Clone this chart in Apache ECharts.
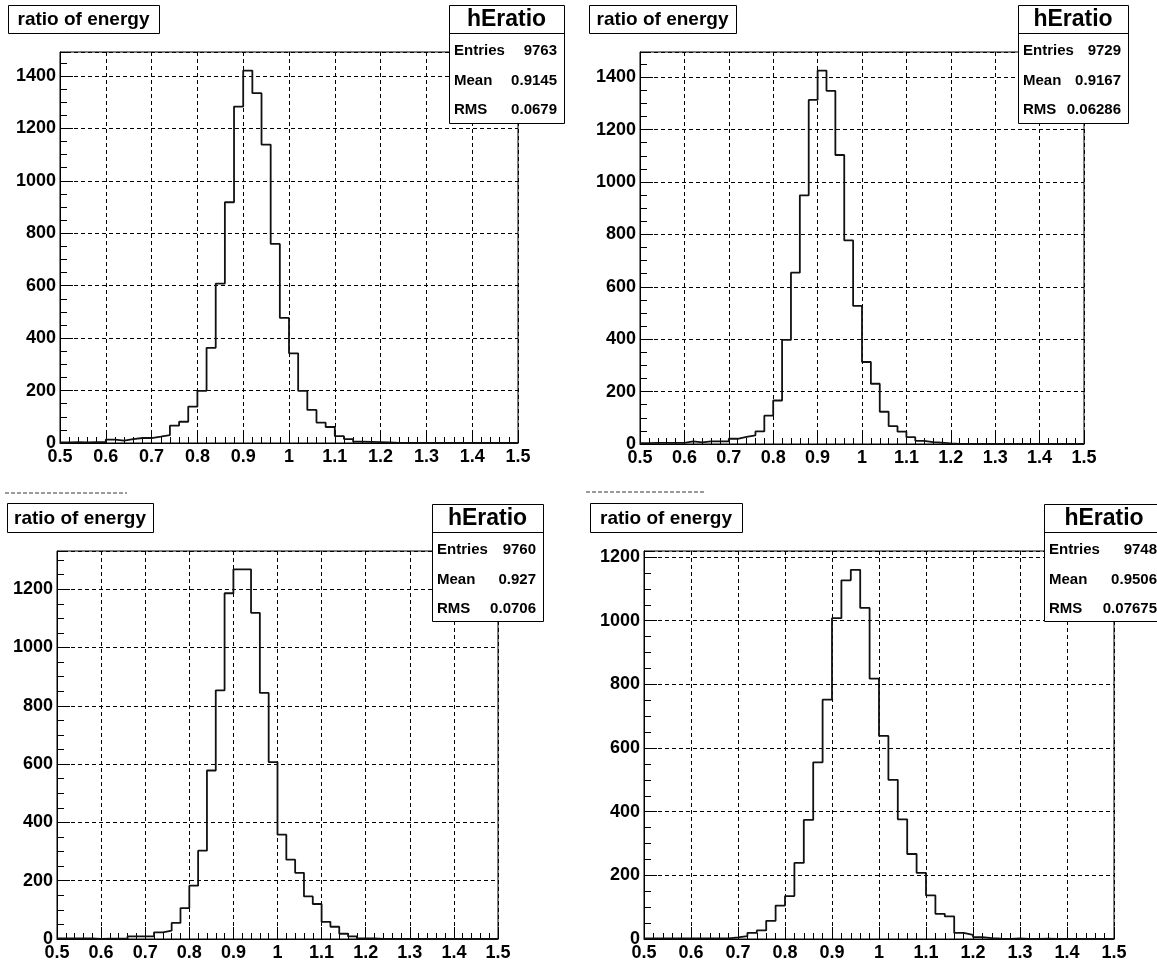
<!DOCTYPE html>
<html>
<head>
<meta charset="utf-8">
<script src="https://cdn.jsdelivr.net/npm/echarts@6/dist/echarts.min.js"></script>
<style>
html,body{margin:0;padding:0;background:#fff;}
#c{width:1157px;height:962px;}
</style>
</head>
<body>
<div id="c"></div>
<script>
// ---------------- data ----------------
const BIN_START = 0.5;
const BIN_WIDTH = 0.02;
const X_MIN = 0.5, X_MAX = 1.5, X_INTERVAL = 0.1;
const Y_INTERVAL = 200;

const titleText = 'ratio of energy';
const histNames = ['hEratio', 'hEratio', 'hEratio', 'hEratio'];
const statLabels = ['Entries', 'Mean', 'RMS'];
const entriesVals = ['9763', '9729', '9760', '9748'];
const meanVals = ['0.9145', '0.9167', '0.927', '0.9506'];
const rmsVals = ['0.0679', '0.06286', '0.0706', '0.07675'];

// bin contents, 50 bins of width 0.02 from 0.5 to 1.5
const counts1 = [
  2, 3, 2, 3, 3,
  13, 9, 15, 19, 19,
  24, 30, 66, 81, 139,
  199, 363, 608, 918, 1283,
  1420, 1334, 1138, 759, 477,
  342, 199, 126, 78, 61,
  26, 15, 5, 4, 3,
  2, 0, 0, 0, 0,
  0, 0, 0, 0, 0,
  0, 0, 0, 0, 0
];
const counts2 = [
  3, 4, 4, 4, 4,
  10, 6, 10, 10, 10,
  20, 27, 33, 48, 108,
  166, 397, 654, 949, 1313,
  1425, 1348, 1103, 777, 527,
  313, 230, 123, 68, 47,
  26, 12, 7, 5, 2,
  0, 0, 0, 0, 0,
  0, 0, 0, 0, 0,
  0, 0, 0, 0, 0
];
const counts3 = [
  2, 2, 2, 2, 0,
  1, 1, 1, 9, 9,
  9, 23, 29, 55, 106,
  183, 303, 578, 853, 1186,
  1268, 1268, 1119, 844, 607,
  358, 272, 227, 146, 120,
  59, 42, 18, 9, 2,
  2, 0, 0, 0, 0,
  0, 0, 0, 0, 0,
  0, 0, 0, 0, 0
];
const counts4 = [
  2, 2, 2, 2, 2,
  2, 2, 2, 2, 5,
  9, 19, 27, 57, 105,
  135, 239, 374, 555, 752,
  1008, 1127, 1160, 1040, 818,
  638, 500, 376, 267, 208,
  137, 79, 71, 19, 13,
  6, 3, 1, 0, 2,
  0, 0, 1, 0, 0,
  0, 0, 0, 0, 0
];
const allCounts = [counts1, counts2, counts3, counts4];
const yMaxes = [1491, 1496, 1331, 1219];

// ---------------- layout ----------------
const PANELS = [
  { grid: {left: 60, top: 52, width: 458, height: 391},
    title: {x: 8, y: 5, w: 151, h: 28},
    stats: {x: 449, y: 5, w: 115, h: 118, hh: 28},
    dash: null },
  { grid: {left: 640, top: 52, width: 444, height: 392},
    title: {x: 589, y: 5, w: 147, h: 28},
    stats: {x: 1018, y: 5, w: 110, h: 118, hh: 28},
    dash: null },
  { grid: {left: 57, top: 551, width: 441, height: 388},
    title: {x: 7, y: 503, w: 146, h: 29},
    stats: {x: 432, y: 504, w: 111, h: 117, hh: 28},
    dash: {x1: 5, x2: 127, y: 493} },
  { grid: {left: 644, top: 551, width: 470, height: 389},
    title: {x: 590, y: 503, w: 152, h: 29},
    stats: {x: 1044, y: 504, w: 120, h: 117, hh: 28},
    dash: {x1: 586, x2: 704, y: 492} }
];

const FONT = '"Liberation Sans", Arial, Helvetica, sans-serif';

function histData(counts) {
  const d = counts.map((v, i) => [BIN_START + i * BIN_WIDTH, v]);
  d.push([BIN_START + counts.length * BIN_WIDTH, counts[counts.length - 1]]);
  return d;
}

const grids = [], xAxes = [], yAxes = [], series = [], graphics = [];

PANELS.forEach((p, k) => {
  grids.push({
    left: p.grid.left, top: p.grid.top, width: p.grid.width, height: p.grid.height,
    show: true, borderColor: '#000', borderWidth: 1, backgroundColor: 'transparent'
  });
  xAxes.push({
    type: 'value', gridIndex: k, min: X_MIN, max: X_MAX, interval: X_INTERVAL,
    axisLine: {show: true, onZero: false, lineStyle: {color: '#000', width: 1}},
    axisTick: {show: true, inside: true, length: 12, lineStyle: {color: '#000', width: 1}},
    minorTick: {show: true, splitNumber: 5, length: 6, lineStyle: {color: '#000', width: 1}},
    splitLine: {show: true, lineStyle: {color: '#000', width: 1, type: [4, 3]}},
    axisLabel: {show: true, margin: 5, color: '#000', fontFamily: FONT, fontWeight: 'bold', fontSize: 18,
                showMinLabel: true, showMaxLabel: true,
                formatter: v => String(Math.round(v * 10) / 10)}
  });
  yAxes.push({
    type: 'value', gridIndex: k, min: 0, max: yMaxes[k], interval: Y_INTERVAL, position: 'left',
    axisLine: {show: true, onZero: false, lineStyle: {color: '#000', width: 1}},
    axisTick: {show: true, inside: true, length: 13, lineStyle: {color: '#000', width: 1}},
    splitLine: {show: true, lineStyle: {color: '#000', width: 1, type: [4, 3]}},
    axisLabel: {show: true, margin: 4, color: '#000', fontFamily: FONT, fontWeight: 'bold', fontSize: 18,
                showMinLabel: true, showMaxLabel: false,
                formatter: v => String(Math.round(v))}
  });
  yAxes.push({
    type: 'value', gridIndex: k, min: 0, max: yMaxes[k], interval: Y_INTERVAL / 4, position: 'left', offset: 0,
    axisLine: {show: false},
    axisTick: {show: true, inside: true, length: 7, lineStyle: {color: '#000', width: 1}},
    splitLine: {show: false},
    axisLabel: {show: false}
  });
  series.push({
    type: 'line', xAxisIndex: k, yAxisIndex: 2 * k, data: histData(allCounts[k]),
    step: 'end', symbol: 'none', showSymbol: false, silent: true, animation: false,
    lineStyle: {color: '#111', width: 1.8}, z: 5
  });

  // title box
  const t = p.title;
  graphics.push({type: 'rect', shape: {x: t.x + 0.5, y: t.y + 0.5, width: t.w, height: t.h},
    style: {fill: '#fff', stroke: '#000', lineWidth: 1}, z: 100});
  graphics.push({type: 'text', x: t.x + t.w / 2, y: t.y + t.h / 2 + 1,
    style: {text: titleText, fill: '#000', font: 'bold 19px ' + FONT, align: 'center', verticalAlign: 'middle'}, z: 101});

  // stats box
  const s = p.stats;
  graphics.push({type: 'rect', shape: {x: s.x + 0.5, y: s.y + 0.5, width: s.w, height: s.h},
    style: {fill: '#fff', stroke: '#000', lineWidth: 1}, z: 100});
  graphics.push({type: 'line', shape: {x1: s.x + 0.5, y1: s.y + s.hh + 0.5, x2: s.x + s.w + 0.5, y2: s.y + s.hh + 0.5},
    style: {stroke: '#000', lineWidth: 1}, z: 101});
  graphics.push({type: 'text', x: s.x + s.w / 2, y: s.y + s.hh / 2 + 1,
    style: {text: histNames[k], fill: '#000', font: 'bold 23px ' + FONT, align: 'center', verticalAlign: 'middle'}, z: 101});
  const vals = [entriesVals[k], meanVals[k], rmsVals[k]];
  const rowOff = [45.5, 75.5, 104.5];
  statLabels.forEach((lab, r) => {
    graphics.push({type: 'text', x: s.x + 5, y: s.y + rowOff[r],
      style: {text: lab, fill: '#000', font: 'bold 15px ' + FONT, align: 'left', verticalAlign: 'middle'}, z: 101});
    graphics.push({type: 'text', x: s.x + s.w - 7, y: s.y + rowOff[r],
      style: {text: vals[r], fill: '#000', font: 'bold 15px ' + FONT, align: 'right', verticalAlign: 'middle'}, z: 101});
  });

  if (p.dash) {
    graphics.push({type: 'line', shape: {x1: p.dash.x1, y1: p.dash.y, x2: p.dash.x2, y2: p.dash.y},
      style: {stroke: '#9a9a9a', lineWidth: 2, lineDash: [4, 2]}, z: 100});
  }
});

const chart = echarts.init(document.getElementById('c'), null, {renderer: 'canvas'});
chart.setOption({
  animation: false,
  backgroundColor: '#fff',
  grid: grids,
  xAxis: xAxes,
  yAxis: yAxes,
  series: series,
  graphic: graphics
});
</script>
</body>
</html>
